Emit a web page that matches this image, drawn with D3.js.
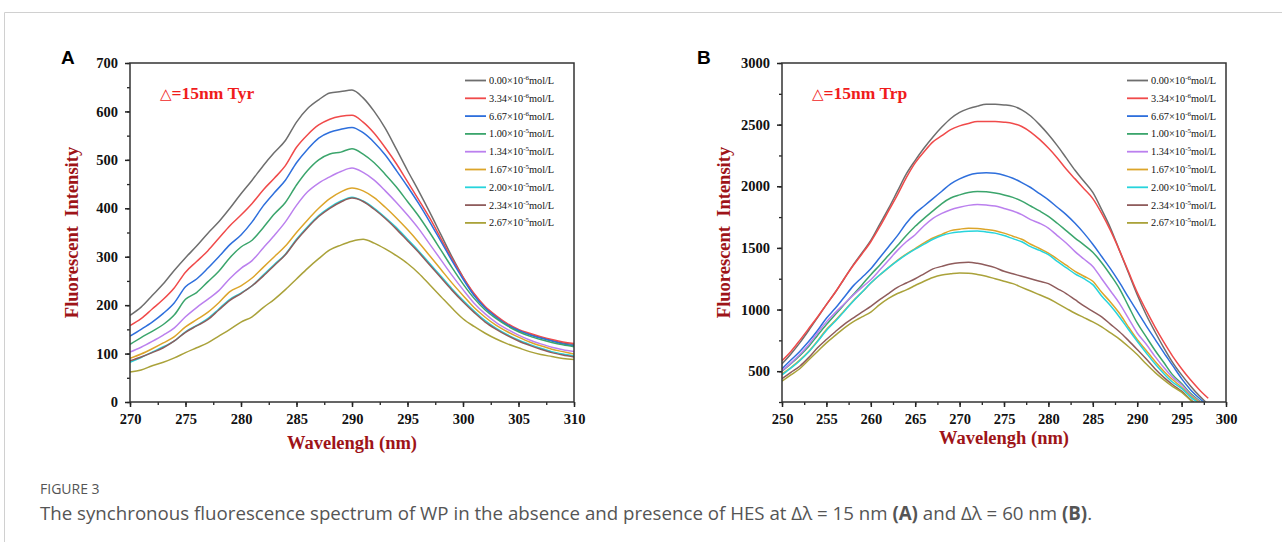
<!DOCTYPE html>
<html lang="en">
<head>
<meta charset="UTF-8">
<title>Figure 3</title>
<script src="https://d3js.org/d3.v7.min.js"></script>
<style>
  body { margin: 0; background: #fff; }
  svg { display: block; }
  .tick text { font-family: "Liberation Serif", serif; font-weight: bold; font-size: 14.5px; fill: #111; }
</style>
</head>
<body>
<div id="chart"></div>
<script>
// concentrations (legend labels)
const concMant = ["0.00", "3.34", "6.67", "1.00", "1.34", "1.67", "2.00", "2.34", "2.67"];
const concExp  = ["-6", "-6", "-6", "-5", "-5", "-5", "-5", "-5", "-5"];
const colors = ["#6e6e6e", "#f04a4a", "#2e6fdc", "#3ba56c", "#bb80ee", "#dca52a", "#27d4dc", "#8f5c5c", "#aaa23a"];

// Panel A: Tyr, wavelength 270..310 nm
const wlA = d3.range(270, 311);
const tyr0  = [179,196,220,244,272,298,322,348,372,400,430,458,488,515,540,578,606,624,638,641,644,628,600,565,522,478,436,392,346,300,258,222,195,176,160,148,140,133,127,122,119];
const tyr1  = [158,172,192,212,236,268,290,312,338,364,386,410,438,462,488,526,552,572,584,590,592,578,555,525,492,455,418,380,338,296,258,224,197,178,162,150,142,135,129,124,121];
const tyr2  = [136,150,165,183,205,238,254,276,300,325,345,372,405,432,458,494,522,545,557,563,567,556,536,510,478,445,410,372,332,292,254,220,194,175,159,148,139,132,126,120,116];
const tyr3  = [119,133,146,160,180,212,226,248,270,298,320,334,360,388,412,448,478,500,512,516,523,512,494,470,444,414,384,350,314,278,244,214,190,172,157,145,136,129,123,118,114];
const tyr4  = [103,113,125,138,153,176,195,212,230,255,276,292,318,344,372,406,434,452,465,476,483,474,458,436,412,386,358,326,294,262,232,204,182,164,150,138,128,120,113,108,104];
const tyr5  = [90,99,110,122,135,155,170,185,205,228,240,256,278,300,322,350,376,400,420,434,442,436,422,402,380,356,330,302,274,246,220,195,175,158,145,134,124,116,109,104,99];
const tyr6  = [82,92,103,114,126,145,158,172,192,212,225,240,262,284,305,336,362,385,402,415,423,415,400,381,360,336,312,286,260,234,210,188,168,152,139,128,119,111,104,99,95];
const tyr7  = [85,93,102,112,126,144,157,170,190,210,224,240,260,282,304,334,360,383,400,413,421,414,398,379,357,333,309,283,257,231,207,185,165,150,137,126,117,109,102,97,93];
const tyr8  = [62,66,75,82,91,102,112,122,136,150,165,176,195,212,232,254,276,296,314,324,332,336,328,316,302,286,266,242,218,194,172,156,142,130,120,112,104,98,94,90,88];
const seriesA = [tyr0, tyr1, tyr2, tyr3, tyr4, tyr5, tyr6, tyr7, tyr8];
const yTicksA = [0, 100, 200, 300, 400, 500, 600, 700];
const xTicksA = [270, 275, 280, 285, 290, 295, 300, 305, 310];

// Panel B: Trp, wavelength 250..298 nm
const wlB = d3.range(250, 299);
const trp0 = [560,640,730,830,935,1040,1140,1250,1360,1460,1560,1690,1820,1960,2100,2210,2310,2400,2480,2550,2600,2630,2650,2665,2665,2660,2650,2620,2570,2500,2420,2330,2230,2130,2040,1950,1810,1660,1480,1300,1120,960,820,690,570,470,380,300,230];
const trp1 = [585,660,750,845,940,1040,1140,1250,1355,1450,1550,1670,1800,1930,2070,2190,2280,2360,2410,2460,2490,2510,2525,2525,2525,2520,2510,2485,2440,2380,2310,2230,2140,2060,1980,1900,1780,1640,1480,1310,1140,995,860,735,620,520,430,350,280];
const trp2 = [519,590,660,740,830,930,1010,1100,1190,1260,1330,1420,1510,1600,1700,1780,1840,1900,1960,2020,2060,2090,2105,2110,2105,2090,2065,2030,1990,1940,1890,1830,1770,1700,1620,1530,1430,1330,1220,1100,985,870,760,650,545,440,350,280,220];
const trp3 = [500,560,625,700,790,878,960,1040,1120,1200,1283,1360,1440,1520,1600,1675,1740,1800,1860,1905,1930,1950,1958,1955,1945,1930,1910,1880,1840,1800,1756,1700,1640,1580,1525,1465,1380,1280,1170,1030,891,780,670,570,470,400,320,260,210];
const trp4 = [505,565,635,715,810,900,975,1045,1115,1180,1242,1320,1400,1480,1550,1607,1680,1740,1780,1810,1830,1845,1852,1848,1840,1820,1800,1770,1730,1700,1661,1600,1540,1470,1410,1350,1250,1150,1050,930,810,720,620,530,450,390,310,255,205];
const trp5 = [478,530,590,660,745,838,910,990,1070,1140,1215,1280,1340,1400,1450,1495,1540,1580,1610,1640,1652,1660,1658,1650,1640,1620,1595,1570,1530,1495,1458,1410,1360,1310,1270,1229,1140,1060,970,860,757,670,580,500,430,370,300,250,200];
const trp6 = [470,525,585,655,740,830,905,985,1065,1140,1215,1280,1340,1395,1445,1490,1530,1570,1600,1620,1630,1636,1638,1630,1620,1600,1575,1550,1510,1480,1445,1390,1340,1290,1250,1202,1110,1030,940,840,743,650,560,480,410,360,290,240,190];
const trp7 = [440,490,540,610,690,757,820,880,930,980,1026,1080,1130,1180,1215,1250,1290,1330,1350,1370,1380,1383,1375,1360,1340,1310,1290,1270,1250,1230,1210,1170,1130,1080,1030,985,940,880,820,750,676,600,520,450,390,338,270,215,170];
const trp8 = [419,470,520,590,660,730,790,850,900,940,980,1040,1090,1130,1160,1195,1230,1260,1280,1290,1297,1295,1285,1270,1250,1230,1210,1180,1150,1120,1090,1050,1010,970,935,900,860,810,760,700,635,560,490,430,375,330,265,210,165];
const seriesB = [trp0, trp1, trp2, trp3, trp4, trp5, trp6, trp7, trp8];
const yTicksB = [500, 1000, 1500, 2000, 2500, 3000];
const xTicksB = [250, 255, 260, 265, 270, 275, 280, 285, 290, 295, 300];

const W = 1282, H = 542;
const svg = d3.select("#chart").append("svg").attr("width", W).attr("height", H);

// outer frame of the figure (top + left light rules)
svg.append("line").attr("x1", 4.5).attr("x2", W).attr("y1", 12.5).attr("y2", 12.5).attr("stroke", "#d0d0d0");
svg.append("line").attr("x1", 4.5).attr("x2", 4.5).attr("y1", 12.5).attr("y2", H).attr("stroke", "#d0d0d0");

function drawPanel(opt) {
  const g = svg.append("g");
  const x = d3.scaleLinear().domain(opt.xDomain).range([opt.left, opt.right]);
  const y = d3.scaleLinear().domain(opt.yDomain).range([opt.bottom, opt.top]);

  const clipId = "clip" + opt.letter;
  g.append("clipPath").attr("id", clipId).append("rect")
    .attr("x", opt.left).attr("y", opt.top)
    .attr("width", opt.right - opt.left).attr("height", opt.bottom - opt.top);

  // minor ticks
  const xMinor = d3.range(opt.xDomain[0], opt.xDomain[1] + 0.01, opt.xMinorStep);
  const yMinor = d3.range(opt.yMinorStart, opt.yDomain[1] + 0.01, opt.yMinorStep);
  g.append("g").attr("transform", `translate(0,${opt.bottom})`)
    .call(d3.axisBottom(x).tickValues(xMinor).tickSize(3).tickFormat(""))
    .call(a => a.select(".domain").remove())
    .selectAll("line").attr("stroke", "#222").attr("stroke-width", 1.3);
  g.append("g").attr("transform", `translate(${opt.left},0)`)
    .call(d3.axisLeft(y).tickValues(yMinor).tickSize(3).tickFormat(""))
    .call(a => a.select(".domain").remove())
    .selectAll("line").attr("stroke", "#222").attr("stroke-width", 1.3);

  // major ticks + labels
  const xa = g.append("g").attr("transform", `translate(0,${opt.bottom})`)
    .call(d3.axisBottom(x).tickValues(opt.xTicks).tickSize(5).tickPadding(7).tickFormat(d3.format("d")));
  xa.select(".domain").remove();
  xa.selectAll("line").attr("stroke", "#222").attr("stroke-width", 1.5);
  const ya = g.append("g").attr("transform", `translate(${opt.left},0)`)
    .call(d3.axisLeft(y).tickValues(opt.yTicks).tickSize(5).tickPadding(7).tickFormat(d3.format("d")));
  ya.select(".domain").remove();
  ya.selectAll("line").attr("stroke", "#222").attr("stroke-width", 1.5);

  // curves
  const line = d3.line().x((d, i) => x(opt.wl[i])).y(d => y(d)).curve(d3.curveMonotoneX);
  const lines = g.append("g").attr("clip-path", `url(#${clipId})`);
  opt.series.forEach((s, k) => {
    lines.append("path").datum(s)
      .attr("d", line).attr("fill", "none")
      .attr("stroke", colors[k]).attr("stroke-width", 1.5);
  });

  // box
  g.append("rect").attr("x", opt.left).attr("y", opt.top)
    .attr("width", opt.right - opt.left).attr("height", opt.bottom - opt.top)
    .attr("fill", "none").attr("stroke", "#333").attr("stroke-width", 1.5);

  // legend
  const leg = g.append("g");
  concMant.forEach((m, k) => {
    const ly = opt.top + 17.5 + k * 17.8;
    leg.append("line").attr("x1", opt.legX).attr("x2", opt.legX + 21)
      .attr("y1", ly).attr("y2", ly).attr("stroke", colors[k]).attr("stroke-width", 1.8);
    const t = leg.append("text").attr("x", opt.legX + 24).attr("y", ly + 3.5)
      .attr("font-family", "Liberation Serif, serif").attr("font-size", 10.3).attr("fill", "#111");
    t.append("tspan").text(m + "×10");
    t.append("tspan").attr("dy", -4).attr("font-size", 7).text(concExp[k]);
    t.append("tspan").attr("dy", 4).text("mol/L");
  });

  // inset title (thin triangle + bold text)
  const ins = g.append("text").attr("x", opt.left + 30).attr("y", opt.top + 36)
    .attr("font-family", "Liberation Serif, serif").attr("font-size", 17.5).attr("fill", "#f01c1c");
  ins.append("tspan").attr("font-size", 15).attr("font-family", "DejaVu Sans, sans-serif").text("△");
  ins.append("tspan").attr("font-weight", "bold").text(opt.inset);

  // axis titles
  g.append("text").attr("transform", `translate(${opt.left - 52},${(opt.top + opt.bottom) / 2}) rotate(-90)`)
    .attr("text-anchor", "middle").attr("font-family", "Liberation Serif, serif")
    .style("white-space", "pre")
    .attr("font-weight", "bold").attr("font-size", 18.5).attr("fill", "#9e1418")
    .text("Fluorescent  Intensity");
  g.append("text").attr("x", (opt.left + opt.right) / 2).attr("y", opt.xTitleY)
    .attr("text-anchor", "middle").attr("font-family", "Liberation Serif, serif")
    .attr("font-weight", "bold").attr("font-size", 18.5).attr("fill", "#9e1418")
    .text("Wavelengh (nm)");

  // panel letter
  g.append("text").attr("x", opt.letterX).attr("y", 64)
    .attr("font-family", "Liberation Sans, Arial, sans-serif").attr("font-weight", "bold")
    .attr("font-size", 19).attr("fill", "#000").text(opt.letter);
}

drawPanel({
  letter: "A", letterX: 61, inset: "=15nm Tyr",
  left: 130, right: 574, top: 63, bottom: 402,
  xDomain: [270, 310], yDomain: [0, 700],
  xTicks: xTicksA, yTicks: yTicksA, xMinorStep: 2.5, yMinorStep: 50, yMinorStart: 0,
  wl: wlA, series: seriesA, legX: 465, xTitleY: 449
});

drawPanel({
  letter: "B", letterX: 697, inset: "=15nm Trp",
  left: 782, right: 1226, top: 63, bottom: 402,
  xDomain: [250, 300], yDomain: [250, 3000],
  xTicks: xTicksB, yTicks: yTicksB, xMinorStep: 2.5, yMinorStep: 250, yMinorStart: 250,
  wl: wlB, series: seriesB, legX: 1127, xTitleY: 444
});

// caption
svg.append("text").attr("x", 40).attr("y", 494)
  .attr("font-family", "Open Sans, sans-serif").attr("font-size", 14)
  .attr("fill", "#555").text("FIGURE 3");
const cap = svg.append("text").attr("x", 40).attr("y", 520)
  .attr("font-family", "Open Sans, sans-serif").attr("font-size", 18.7)
  .attr("fill", "#555");
cap.append("tspan").text("The synchronous fluorescence spectrum of WP in the absence and presence of HES at Δλ = 15 nm ");
cap.append("tspan").attr("font-weight", "bold").text("(A)");
cap.append("tspan").text(" and Δλ = 60 nm ");
cap.append("tspan").attr("font-weight", "bold").text("(B)");
cap.append("tspan").text(".");
</script>
</body>
</html>
